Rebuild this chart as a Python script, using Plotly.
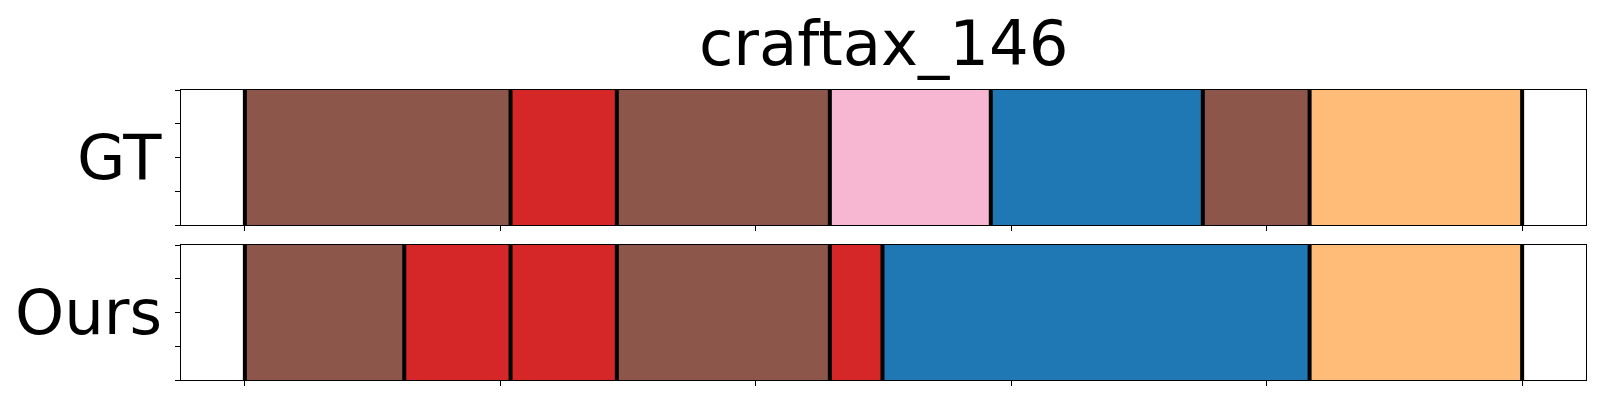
import plotly.graph_objects as go

# ---- data ----
title_text = "craftax_146"
row_names = ["GT", "Ours"]
gt_bounds = [0, 52, 72.8, 114.5, 146, 187.5, 208.4, 250]
gt_classes = [10, 6, 10, 13, 0, 10, 3]
ours_bounds = [0, 31.2, 52, 72.8, 114.5, 124.8, 208.4, 250]
ours_classes = [10, 6, 6, 10, 6, 0, 3]
x_ticks = [0, 50, 100, 150, 200, 250]
y_ticks = [0, 0.25, 0.5, 0.75, 1.0]

# ---- style ----
tab20 = {0: "#1f77b4", 3: "#ffbb78", 6: "#d62728", 10: "#8c564b", 13: "#f7b6d2"}
FONT = "DejaVu Sans"
FS = 62.5
W, H = 1600, 400
OFF = 8  # page body margin
L, R = 181 - OFF, 14 + OFF
panels = [(90 - OFF, 225 - OFF), (245 - OFF, 380 - OFF)]  # pixel top/bottom in figure

fig = go.Figure()
rows = [(gt_bounds, gt_classes), (ours_bounds, ours_classes)]
for i, (bounds, classes) in enumerate(rows):
    xa = "x" if i == 0 else "x2"
    ya = "y" if i == 0 else "y2"
    for k, c in enumerate(classes):
        fig.add_trace(go.Bar(
            orientation="h", y=[0.5], x=[bounds[k + 1] - bounds[k]], base=[bounds[k]],
            width=1, marker=dict(color=tab20[c], line=dict(width=0)),
            xaxis=xa, yaxis=ya, showlegend=False, hoverinfo="skip"))
    lx, ly = [], []
    for b in bounds:
        lx += [b, b, None]
        ly += [0, 1, None]
    fig.add_trace(go.Scatter(x=lx, y=ly, mode="lines", line=dict(color="black", width=4),
                             xaxis=xa, yaxis=ya, showlegend=False, hoverinfo="skip"))

axis_common = dict(showline=True, linecolor="black", linewidth=1.1, mirror=True,
                   ticks="outside", ticklen=5, tickwidth=1.1, tickcolor="black",
                   showticklabels=False, showgrid=False, zeroline=False)
for i, (top, bot) in enumerate(panels):
    dom = [1 - bot / H, 1 - top / H]
    xkey = "xaxis" if i == 0 else "xaxis2"
    ykey = "yaxis" if i == 0 else "yaxis2"
    fig.update_layout(**{
        xkey: dict(axis_common, range=[-12.5, 262.5], tickvals=x_ticks, domain=[0, 1],
                   anchor="y" if i == 0 else "y2"),
        ykey: dict(axis_common, range=[0, 1], tickvals=y_ticks, domain=dom,
                   anchor="x" if i == 0 else "x2"),
    })
    fig.add_annotation(text=row_names[i], xref="paper", yref="paper",
                       x=(156 - L) / (W - L - R), y=1 - (top + bot) / 2 / H,
                       xanchor="right", yanchor="middle", showarrow=False,
                       font=dict(family=FONT, size=FS, color="black"))

fig.add_annotation(text=title_text, xref="paper", yref="paper",
                   x=0.5, y=1 - 35 / H,
                   xanchor="center", yanchor="middle", showarrow=False,
                   font=dict(family=FONT, size=FS, color="black"))

fig.update_layout(width=W, height=H, margin=dict(l=L, r=R, t=0, b=0),
                  barmode="overlay", bargap=0, plot_bgcolor="white", paper_bgcolor="white")
fig.write_html("out.html")
